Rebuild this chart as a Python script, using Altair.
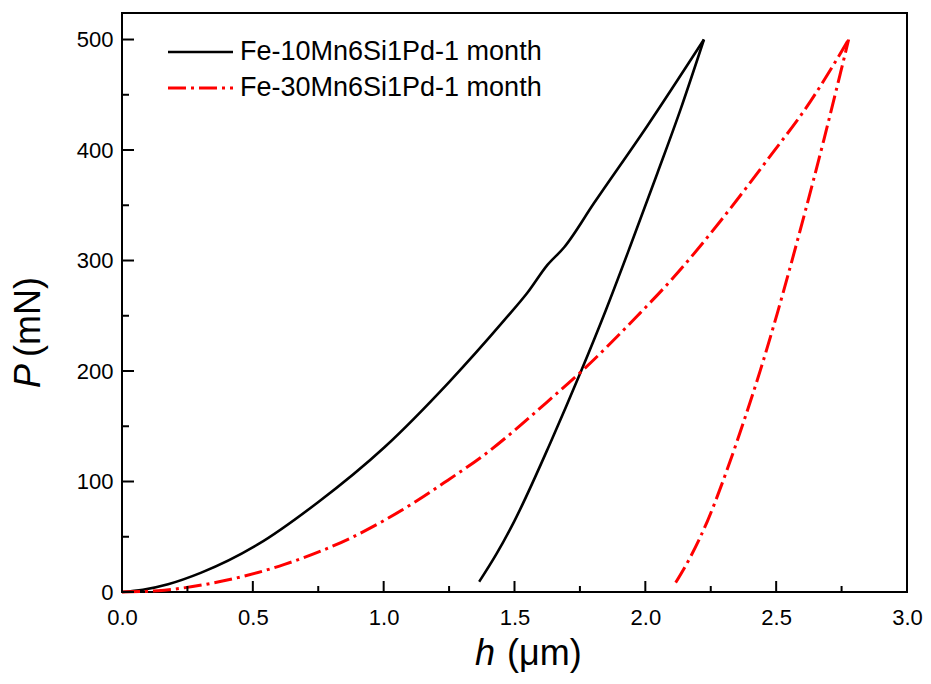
import altair as alt
import pandas as pd

# ---- data ----
series_names = ["Fe-10Mn6Si1Pd-1 month", "Fe-30Mn6Si1Pd-1 month"]

# Fe-10Mn6Si1Pd
h_10_load = [0, 0.08, 0.176, 0.303, 0.519, 0.748, 1.003, 1.25, 1.461, 1.55, 1.626, 1.69, 1.804, 2.008, 2.224]
p_10_load = [0, 2, 7, 17.5, 43, 81, 131, 190, 246, 271, 296, 312, 352, 422, 500]
h_10_unload = [1.365, 1.43, 1.499, 1.639, 1.753, 1.849, 1.944, 2.046, 2.135, 2.224]
p_10_unload = [9.3, 34, 64, 136, 199, 255, 314, 379, 437, 500]

# Fe-30Mn6Si1Pd
h_30_load = [0, 0.137, 0.366, 0.621, 0.875, 1.13, 1.244, 1.384, 1.499, 1.62, 1.753, 1.97, 2.109, 2.288, 2.466, 2.631, 2.777]
p_30_load = [0, 1.2, 9, 25, 49, 83, 101, 124, 146, 171, 199, 250, 285, 336, 391, 444, 500]
h_30_unload = [2.116, 2.173, 2.237, 2.313, 2.377, 2.44, 2.504, 2.542, 2.606, 2.682, 2.746, 2.777]
p_30_unload = [8.5, 32, 64, 111, 155, 201, 252, 284, 340, 409, 470, 500]

x_major = [0.0, 0.5, 1.0, 1.5, 2.0, 2.5, 3.0]
x_minor = [0.25, 0.75, 1.25, 1.75, 2.25, 2.75]
y_major = [0, 100, 200, 300, 400, 500]
y_minor = [50, 150, 250, 350, 450]

x_title_italic = "h"
x_title_rest = "(μm)"
y_title_italic = "P"
y_title_rest = "(mN)"

# ---- build tables ----
rows = []
for name, branch, hs, ps in [
    (series_names[0], "load", h_10_load, p_10_load),
    (series_names[0], "unload", h_10_unload, p_10_unload),
    (series_names[1], "load", h_30_load, p_30_load),
    (series_names[1], "unload", h_30_unload, p_30_unload),
]:
    for i, (h, p) in enumerate(zip(hs, ps)):
        rows.append({"series": name, "branch": branch, "idx": i, "h": h, "P": p})
df = pd.DataFrame(rows)

W, H = 785, 579
FONT = "Liberation Sans, Arial, sans-serif"

xs = alt.Scale(domain=[0, 3], nice=False, zero=False)
ys = alt.Scale(domain=[0, 524], nice=False, zero=False)

base = alt.Chart(df)

black = base.transform_filter(alt.datum.series == series_names[0]).mark_line(
    color="#000000", strokeWidth=2.6, interpolate="monotone"
).encode(
    x=alt.X("h:Q", scale=xs,
            axis=alt.Axis(values=x_major, format=".1f", title=None, grid=False, ticks=False, tickSize=0,
                          domain=False, labelFontSize=22, labelFont=FONT, labelColor="#000000",
                          labelPadding=15, labelFlush=False)),
    y=alt.Y("P:Q", scale=ys,
            axis=alt.Axis(values=y_major, title=None, grid=False, ticks=False, tickSize=0,
                          domain=False, labelFontSize=22, labelFont=FONT, labelColor="#000000",
                          labelPadding=9, labelFlush=False)),
    detail="branch:N",
    order="idx:Q",
)

red = base.transform_filter(alt.datum.series == series_names[1]).mark_line(
    color="#ff0000", strokeWidth=3, strokeDash=[18, 5, 3, 5], interpolate="monotone"
).encode(
    x=alt.X("h:Q", scale=xs),
    y=alt.Y("P:Q", scale=ys),
    detail="branch:N",
    order="idx:Q",
)

def one(d):
    return alt.Data(values=[d])

# inward ticks
xmaj = alt.Chart(pd.DataFrame({"v": x_major})).mark_rule(color="#000", strokeWidth=2).encode(
    x=alt.X("v:Q", scale=xs), y=alt.value(H), y2=alt.value(H - 11))
xmin = alt.Chart(pd.DataFrame({"v": x_minor})).mark_rule(color="#000", strokeWidth=2).encode(
    x=alt.X("v:Q", scale=xs), y=alt.value(H), y2=alt.value(H - 6))
ymaj = alt.Chart(pd.DataFrame({"v": y_major})).mark_rule(color="#000", strokeWidth=2).encode(
    y=alt.Y("v:Q", scale=ys), x=alt.value(0), x2=alt.value(12))
ymin = alt.Chart(pd.DataFrame({"v": y_minor})).mark_rule(color="#000", strokeWidth=2).encode(
    y=alt.Y("v:Q", scale=ys), x=alt.value(0), x2=alt.value(7))

# legend
leg1_line = alt.Chart(one({"s": series_names[0]})).mark_rule(color="#000", strokeWidth=2.6).encode(
    x=alt.value(46), x2=alt.value(111), y=alt.value(39))
leg2_line = alt.Chart(one({"s": series_names[1]})).mark_rule(
    color="#ff0000", strokeWidth=3, strokeDash=[18, 5, 3, 5]).encode(
    x=alt.value(46), x2=alt.value(111), y=alt.value(75))
leg1_text = alt.Chart(one({"s": series_names[0]})).mark_text(
    align="left", baseline="middle", fontSize=27, font=FONT, color="#000").encode(
    text="s:N", x=alt.value(118), y=alt.value(39))
leg2_text = alt.Chart(one({"s": series_names[1]})).mark_text(
    align="left", baseline="middle", fontSize=27, font=FONT, color="#000").encode(
    text="s:N", x=alt.value(118), y=alt.value(75))

# axis titles (italic symbol + upright unit)
xt1 = alt.Chart(one({"t": x_title_italic})).mark_text(
    align="left", baseline="alphabetic", fontSize=36, font=FONT, fontStyle="italic", color="#000").encode(
    text="t:N", x=alt.value(353), y=alt.value(652))
xt2 = alt.Chart(one({"t": x_title_rest})).mark_text(
    align="left", baseline="alphabetic", fontSize=36, font=FONT, color="#000").encode(
    text="t:N", x=alt.value(385), y=alt.value(652))
yt1 = alt.Chart(one({"t": y_title_italic})).mark_text(
    align="left", baseline="alphabetic", fontSize=36, font=FONT, fontStyle="italic", angle=270, color="#000").encode(
    text="t:N", x=alt.value(-82), y=alt.value(375))
yt2 = alt.Chart(one({"t": y_title_rest})).mark_text(
    align="left", baseline="alphabetic", fontSize=36, font=FONT, angle=270, color="#000").encode(
    text="t:N", x=alt.value(-82), y=alt.value(344))

chart = alt.layer(
    black, red, xmaj, xmin, ymaj, ymin,
    leg1_line, leg2_line, leg1_text, leg2_text,
    xt1, xt2, yt1, yt2,
).properties(
    width=W, height=H,
    autosize=alt.AutoSizeParams(type="none"),
    padding={"left": 114, "top": 5, "right": 16, "bottom": 82},
).configure(
    background="#ffffff",
    view=alt.ViewConfig(stroke="#000000", strokeWidth=2),
)

chart.save("out.html", embed_options={"renderer": "svg", "actions": False})
